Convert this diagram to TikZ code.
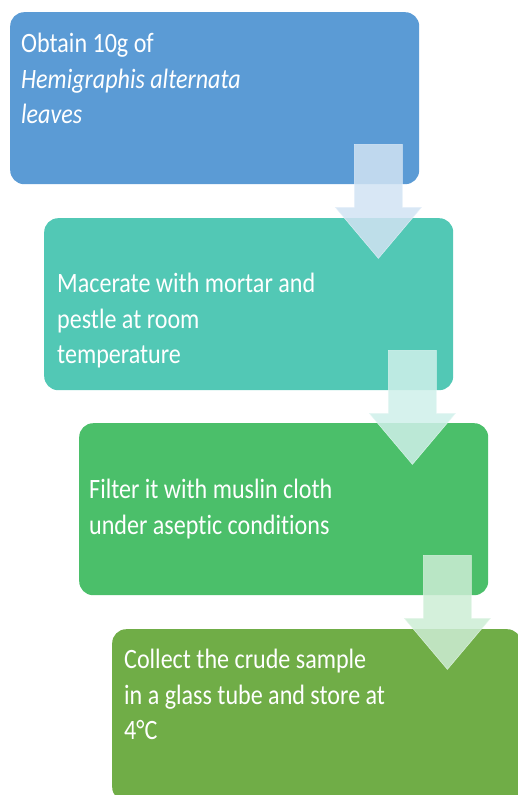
\documentclass[tikz,border=0pt]{standalone}
\usepackage{fontspec}
\newfontfamily\stepfont{Carlito}[FakeStretch=0.86, Ligatures=NoCommon]
\usepackage{xcolor}
\usepackage{tikz}
\usetikzlibrary{positioning, calc}

\definecolor{stepblue}{HTML}{5B9BD5}
\definecolor{stepteal}{HTML}{52C8B5}
\definecolor{stepgreen}{HTML}{4BBF6A}
\definecolor{stepolive}{HTML}{70AD47}

\begin{document}
\begin{tikzpicture}[
    x=1pt, y=1pt,
    stepbox/.style={rectangle, rounded corners=14pt, minimum width=409pt, minimum height=172pt, anchor=north west, inner sep=0pt},
    steptext/.style={anchor=north west, inner sep=0pt, align=left, text=white, font=\stepfont\fontsize{28}{35.5}\selectfont},
    blockarrow/.style={draw=#1!15!white, line width=0.5pt, fill=#1!28!white, fill opacity=0.85, draw opacity=0.85},
]
\useasboundingbox (0,0) rectangle (518,-795);
\clip (0,0) rectangle (518,-795);

% Step 1: Collect leaves
\node[stepbox, fill=stepblue] (s1) at (10,-12) {};
\node[steptext] (t1) at ([xshift=11pt, yshift=-21pt]s1.north west) {Obtain 10g of\\\textit{Hemigraphis alternata}\\\textit{leaves}};

% Step 2: Maceration
\node[stepbox, fill=stepteal] (s2) at (44,-218) {};
\node[steptext] (t2) at ([xshift=13pt, yshift=-55pt]s2.north west) {Macerate with mortar and\\pestle at room\\temperature};

% Step 3: Filtration
\node[stepbox, fill=stepgreen] (s3) at (79,-423) {};
\node[steptext] (t3) at ([xshift=10pt, yshift=-56pt]s3.north west) {Filter it with muslin cloth\\under aseptic conditions};

% Step 4: Storage
\node[stepbox, fill=stepolive] (s4) at (112,-629) {};
\node[steptext] (t4) at ([xshift=12pt, yshift=-20pt]s4.north west) {Collect the crude sample\\in a glass tube and store at\\4°C};

% Block arrows
\foreach \a/\col in {s1/stepblue, s2/stepteal, s3/stepgreen} {
    \draw[blockarrow=\col] ([xshift=-65pt, yshift=40pt]\a.south east)
        -- ++(48,0) -- ++(0,-63) -- ++(19,0) -- ++(-43,-51) -- ++(-43,51) -- ++(19,0) -- cycle;
}

\end{tikzpicture}
\end{document}
